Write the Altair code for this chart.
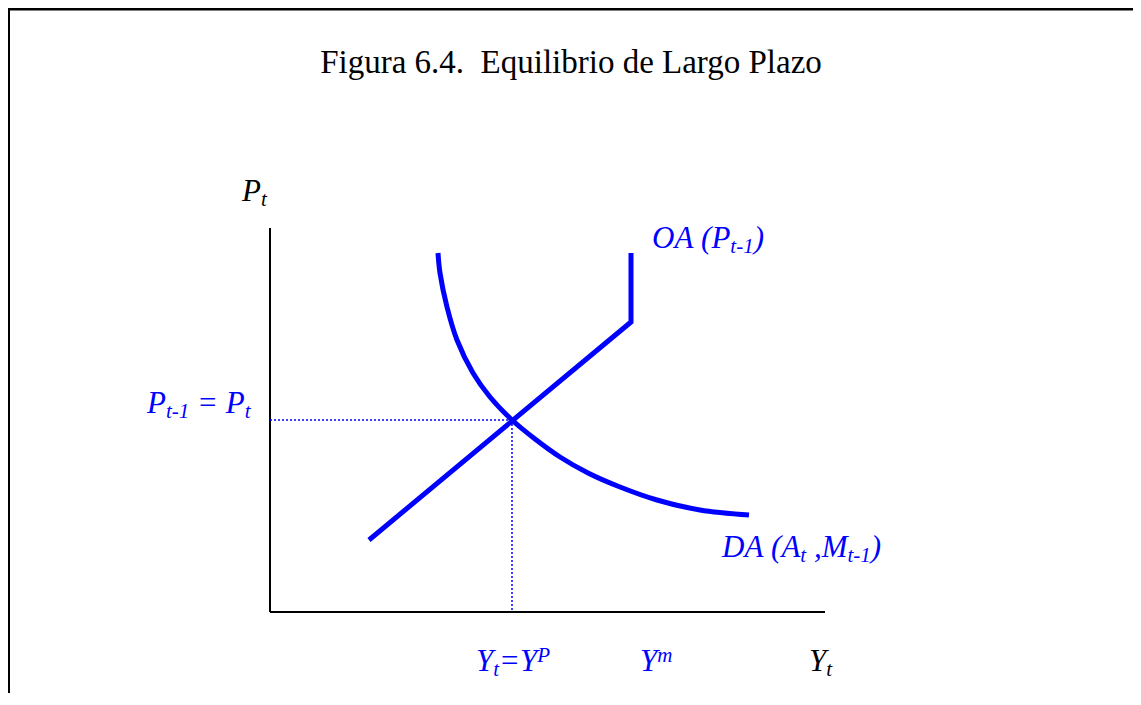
import altair as alt
import pandas as pd

# ---- data (units: origin at the axes corner, y upward) ----
oa_x = [99, 361, 361]
oa_y = [72, 290, 359]

da_x = [168, 170, 177, 187, 203, 220, 242, 265, 290, 318, 350, 387, 430, 479]
da_y = [359, 339, 305, 272, 239, 215, 192, 173, 155, 139, 125, 112, 102, 97]

eq_x, eq_y = 242, 192
x_axis_end, y_axis_end = 555, 384

title_text = "Figura 6.4.\u00a0 Equilibrio de Largo Plazo"

NB = "\u00a0"
# labels: (start x, baseline y, colour, [(text, role, spaces before), ...])
label_groups = [
    (-28, 411, "black", [("P", "main", 0), ("t", "sub", 0)]),
    (539, -59, "black", [("Y", "main", 0), ("t", "sub", 0)]),
    (-123, 199, "blue", [("P", "main", 0), ("t-1", "sub", 0), ("=" + NB + "P", "main", 1), ("t", "sub", 0)]),
    (382, 364, "blue", [("OA" + NB + "(P", "main", 0), ("t-1", "sub", 0), (")", "main", 0)]),
    (452, 55, "blue", [("DA" + NB + "(A", "main", 0), ("t", "sub", 0), (",M", "main", 1),
                       ("t-1", "sub", 0), (")", "main", 0)]),
    (206, -59, "blue", [("Y", "main", 0), ("t", "sub", 0), ("=Y", "main", 0), ("P", "sup", 0)]),
    (370, -59, "blue", [("Y", "main", 0), ("m", "sup", 0)]),
]

BLUE = "#0000FF"
MAIN_FS, SUB_FS = 31, 21
SUB_DY, SUP_DY = -5, 9
SPACE_EM = 0.25

# approximate Times-Italic advance widths (per em) to chain the pieces
ITALIC_W = {"P": .611, "t": .278, "-": .333, "1": .5, NB: .25, " ": .25, "=": .675, "O": .722,
            "A": .611, "(": .333, ")": .333, "D": .722, "M": .833, ",": .25, "Y": .556, "m": .722}


def text_w(s, fs):
    return sum(ITALIC_W.get(c, .5) for c in s) * fs


rows = []
for x0, y0, col, pieces in label_groups:
    cx = x0
    for txt, role, sp in pieces:
        fs = MAIN_FS if role == "main" else SUB_FS
        dy = 0 if role == "main" else (SUB_DY if role == "sub" else SUP_DY)
        cx += sp * SPACE_EM * MAIN_FS
        rows.append({"t": txt, "x": cx, "y": y0 + dy, "fs": fs,
                     "col": "black" if col == "black" else BLUE})
        cx += text_w(txt, fs)
labels = pd.DataFrame(rows)

X_DOM = [-262, 863]
Y_DOM = [-81, 604]
W, H = 1125, 685

xs = alt.Scale(domain=X_DOM, nice=False, zero=False)
ys = alt.Scale(domain=Y_DOM, nice=False, zero=False)
X = alt.X("x:Q", scale=xs, axis=None)
Y = alt.Y("y:Q", scale=ys, axis=None)

oa = pd.DataFrame({"x": oa_x, "y": oa_y, "i": range(len(oa_x))})
da = pd.DataFrame({"x": da_x, "y": da_y, "i": range(len(da_x))})

oa_line = alt.Chart(oa).mark_line(color=BLUE, strokeWidth=5, strokeJoin="miter", strokeCap="butt").encode(
    x=X, y=Y, order="i:Q")
da_line = alt.Chart(da).mark_line(color=BLUE, strokeWidth=5, interpolate="catmull-rom", strokeCap="butt").encode(
    x=X, y=Y, order="i:Q")

guides = pd.DataFrame({"x": [0, eq_x], "y": [eq_y, eq_y], "x2": [eq_x, eq_x], "y2": [eq_y, 0]})
dotted = alt.Chart(guides).mark_rule(color=BLUE, strokeWidth=1.5, strokeDash=[2, 2]).encode(
    x=X, y=Y, x2="x2:Q", y2="y2:Q")

axes_df = pd.DataFrame({"x": [0, 0], "y": [0, 0], "x2": [x_axis_end, 0], "y2": [0, y_axis_end]})
axes = alt.Chart(axes_df).mark_rule(color="black", strokeWidth=2).encode(
    x=X, y=Y, x2="x2:Q", y2="y2:Q")

frame_df = pd.DataFrame({"x": [X_DOM[0], X_DOM[0] + 0.5], "y": [603, Y_DOM[0]],
                         "x2": [X_DOM[1], X_DOM[0] + 0.5], "y2": [603, 604]})
frame = alt.Chart(frame_df).mark_rule(color="black", strokeWidth=3).encode(
    x=X, y=Y, x2="x2:Q", y2="y2:Q")

label_layer = alt.Chart(labels).mark_text(
    font="Liberation Serif", fontStyle="italic", align="left", baseline="alphabetic").encode(
    x=X, y=Y, text="t:N",
    size=alt.Size("fs:Q", scale=None, legend=None),
    color=alt.Color("col:N", scale=None, legend=None))

title_df = pd.DataFrame({"t": [title_text], "x": [301], "y": [539]})
title_layer = alt.Chart(title_df).mark_text(
    font="Liberation Serif", fontSize=33, align="center", baseline="alphabetic", color="black").encode(
    x=X, y=Y, text="t:N")

chart = alt.layer(frame, axes, dotted, oa_line, da_line, label_layer, title_layer).properties(
    width=W, height=H, padding=0, autosize=alt.AutoSizeParams(type="none")
).configure_view(stroke=None)

chart.save("out.html", embed_options={"renderer": "svg", "actions": False})
